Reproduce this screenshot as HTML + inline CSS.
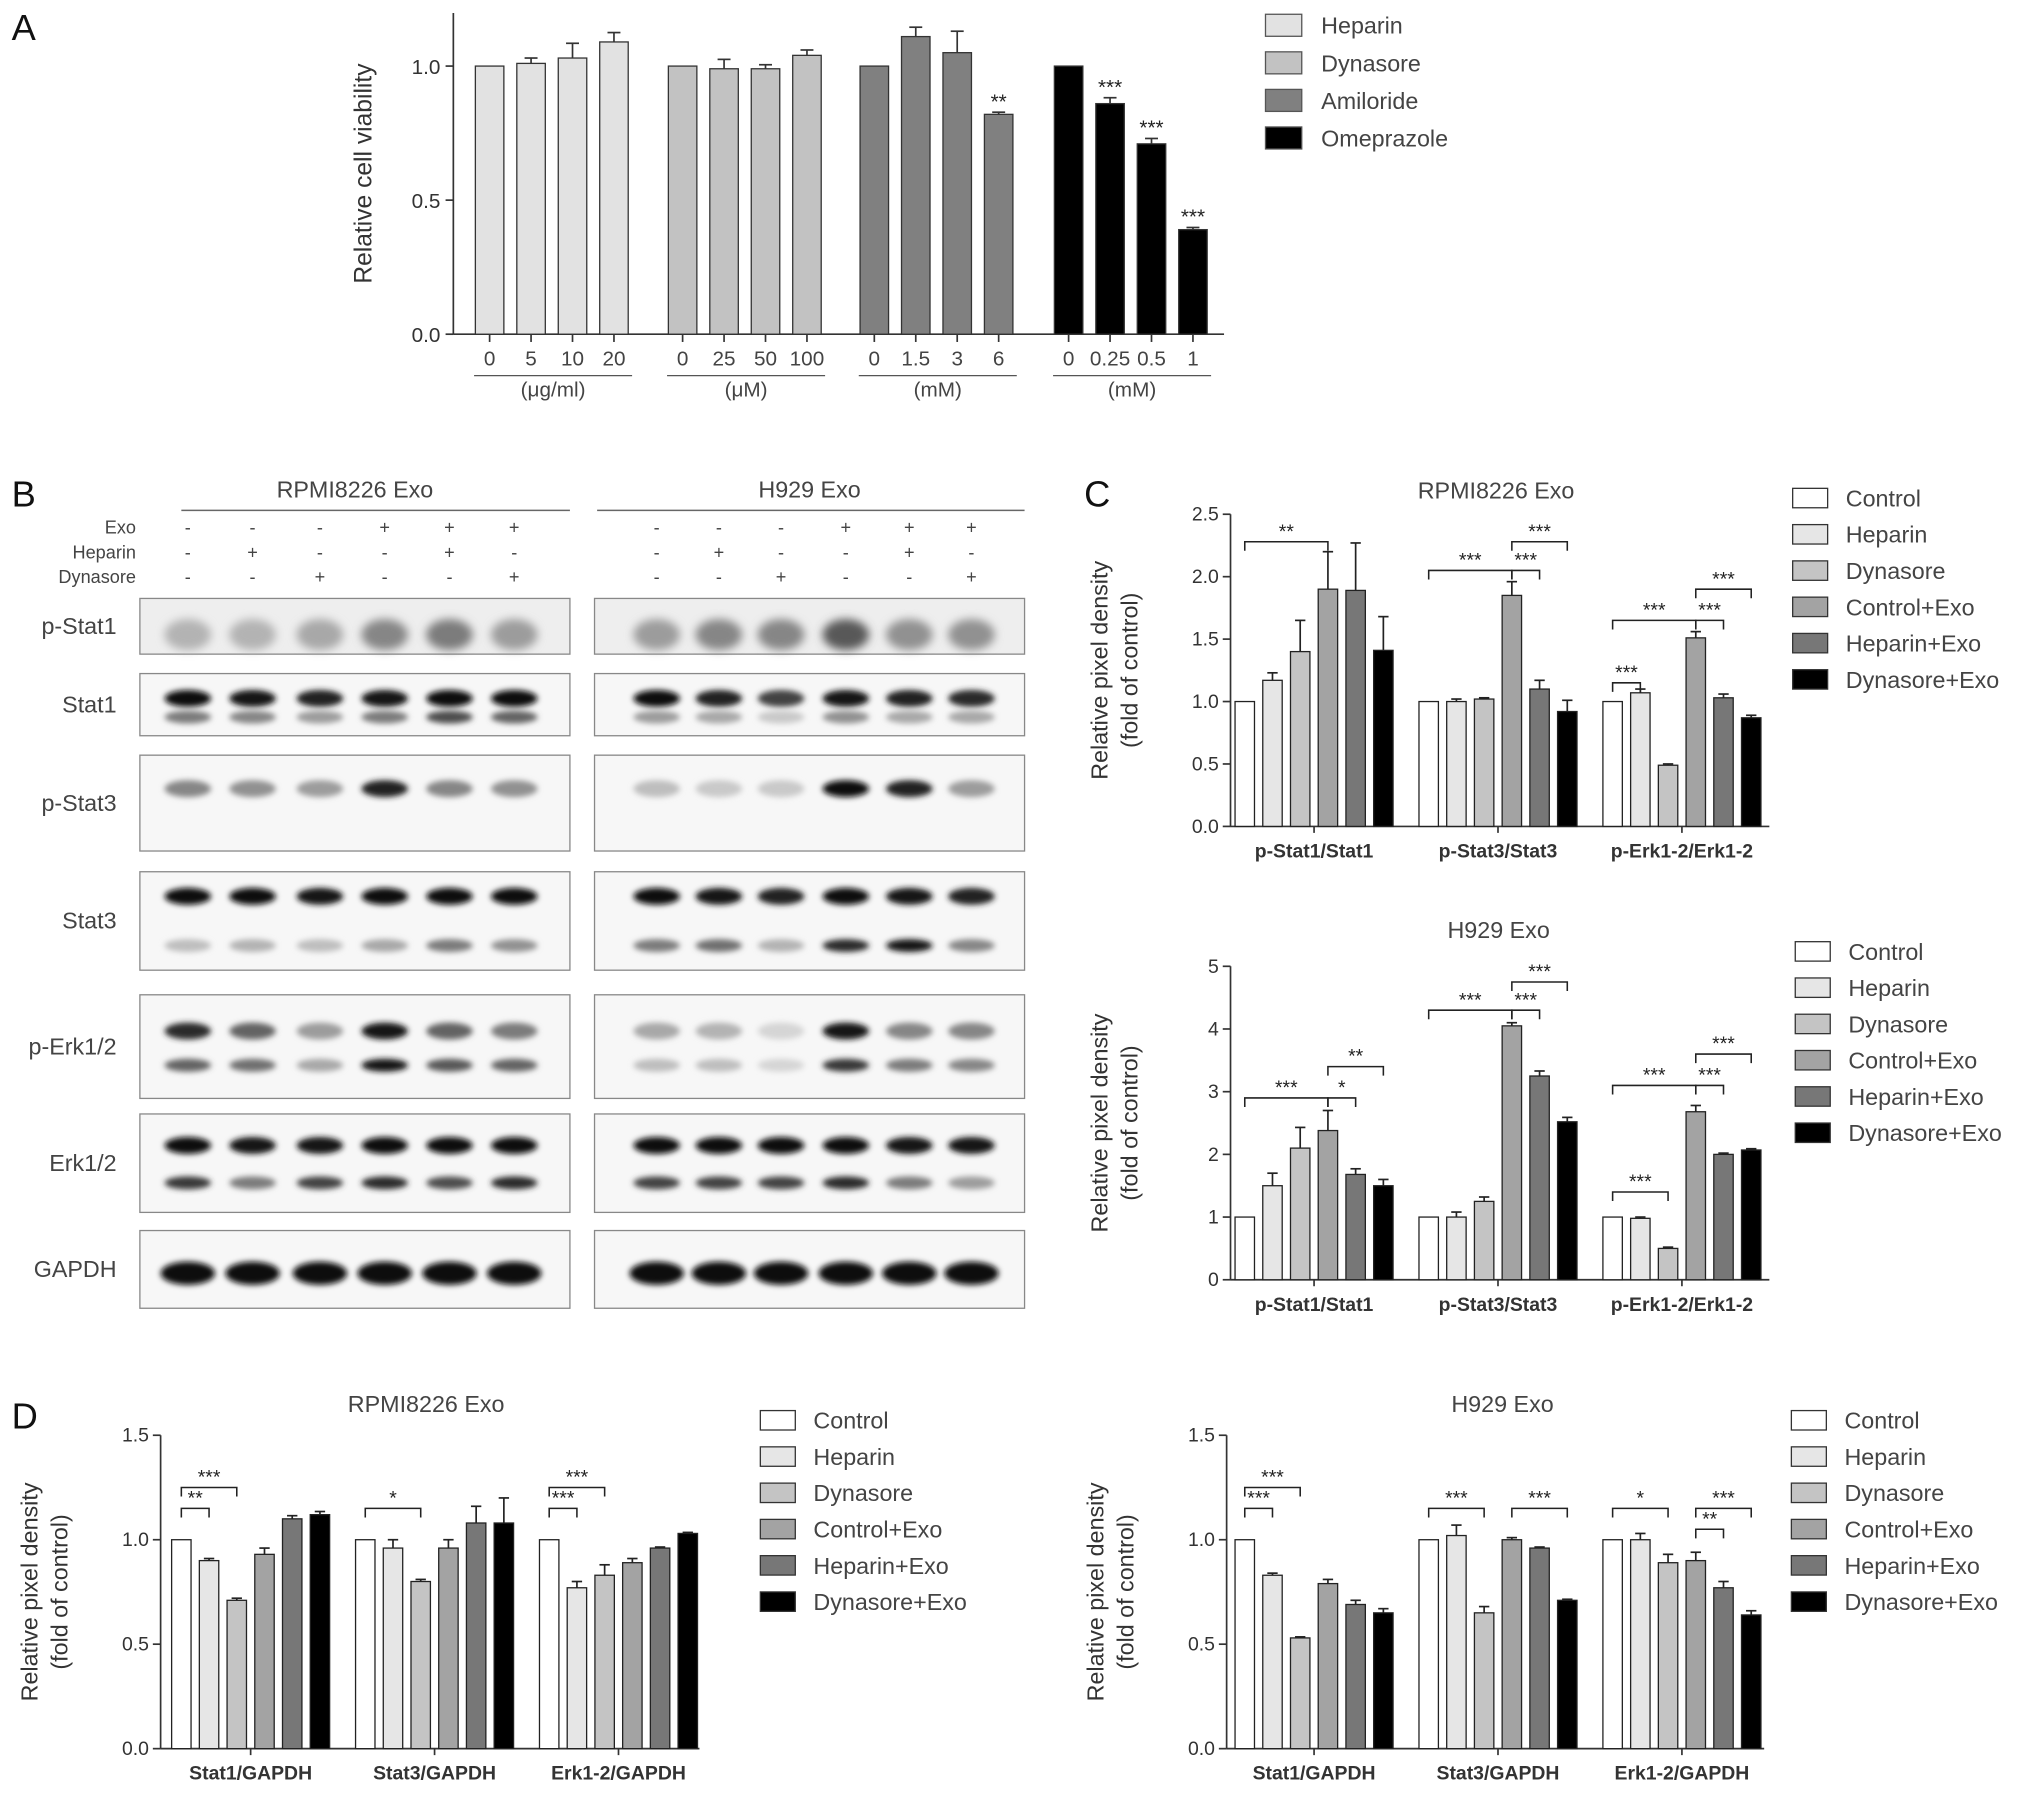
<!DOCTYPE html>
<html><head><meta charset="utf-8"><style>
html,body{margin:0;padding:0;background:#fff;}
svg{display:block;font-family:"Liberation Sans",sans-serif;}
</style></head><body>
<svg id="fig" width="2031" height="1794" viewBox="0 0 1568 1385" xmlns="http://www.w3.org/2000/svg">
<defs>
<filter id="blur" x="-50%" y="-100%" width="200%" height="300%"><feGaussianBlur stdDeviation="2.2"/></filter>
<filter id="blur2" x="-50%" y="-100%" width="200%" height="300%"><feGaussianBlur stdDeviation="3.5"/></filter>
</defs>
</svg>
<script>
// ---------- Panel A data ----------
const aGroups = ["(μg/ml)","(μM)","(mM)","(mM)"];
const aTicks = [["0","5","10","20"],["0","25","50","100"],["0","1.5","3","6"],["0","0.25","0.5","1"]];
const aValues = [[1,1.01,1.03,1.09],[1,0.99,0.99,1.04],[1,1.11,1.05,0.82],[1,0.86,0.71,0.39]];
const aErrors = [[0,0.02,0.055,0.035],[0,0.035,0.015,0.02],[0,0.035,0.08,0.008],[0,0.022,0.02,0.008]];
const aStars = [["","","",""],["","","",""],["","","","**"],["","***","***","***"]];
const aNames = ["Heparin","Dynasore","Amiloride","Omeprazole"];
const aColors = ["#e2e2e2","#c2c2c2","#808080","#000000"];
const yTicksA = [0,0.5,1.0];

// ---------- Panels C/D data ----------
const series = ["Control","Heparin","Dynasore","Control+Exo","Heparin+Exo","Dynasore+Exo"];
const sColors = ["#ffffff","#e6e6e6","#c4c4c4","#a3a3a3","#777777","#000000"];
const cCats = ["p-Stat1/Stat1","p-Stat3/Stat3","p-Erk1-2/Erk1-2"];
const dCats = ["Stat1/GAPDH","Stat3/GAPDH","Erk1-2/GAPDH"];
const cTopVals = [[1,1.17,1.4,1.9,1.89,1.41],[1,1,1.02,1.85,1.1,0.92],[1,1.07,0.49,1.51,1.03,0.87]];
const cTopErr = [[0,0.06,0.25,0.3,0.38,0.27],[0,0.02,0.01,0.11,0.07,0.09],[0,0.03,0.01,0.05,0.03,0.02]];
const cBotVals = [[1,1.5,2.1,2.38,1.68,1.5],[1,1,1.25,4.05,3.25,2.52],[1,0.98,0.5,2.68,2,2.07]];
const cBotErr = [[0,0.2,0.33,0.32,0.09,0.1],[0,0.08,0.07,0.05,0.08,0.07],[0,0.02,0.02,0.1,0.02,0.02]];
const dLeftVals = [[1,0.9,0.71,0.93,1.1,1.12],[1,0.96,0.8,0.96,1.08,1.08],[1,0.77,0.83,0.89,0.96,1.03]];
const dLeftErr = [[0,0.01,0.01,0.03,0.015,0.015],[0,0.04,0.01,0.04,0.08,0.12],[0,0.03,0.05,0.02,0.005,0.005]];
const dRightVals = [[1,0.83,0.53,0.79,0.69,0.65],[1,1.02,0.65,1,0.96,0.71],[1,1,0.89,0.9,0.77,0.64]];
const dRightErr = [[0,0.01,0.005,0.02,0.02,0.02],[0,0.05,0.03,0.01,0.005,0.005],[0,0.03,0.04,0.04,0.03,0.02]];
// brackets: [group, fromBar, toBar, level(value units), label]
const cTopBr = [[0,0,3,2.28,"**"],[1,0,3,2.05,"***"],[1,3,4,2.05,"***"],[1,3,5,2.28,"***"],[2,0,1,1.15,"***"],[2,0,3,1.65,"***"],[2,3,4,1.65,"***"],[2,3,5,1.9,"***"]];
const cBotBr = [[0,0,3,2.9,"***"],[0,3,4,2.9,"*"],[0,3,5,3.4,"**"],[1,0,3,4.3,"***"],[1,3,4,4.3,"***"],[1,3,5,4.75,"***"],[2,0,2,1.4,"***"],[2,0,3,3.1,"***"],[2,3,4,3.1,"***"],[2,3,5,3.6,"***"]];
const dLeftBr = [[0,0,1,1.15,"**"],[0,0,2,1.25,"***"],[1,0,2,1.15,"*"],[2,0,1,1.15,"***"],[2,0,2,1.25,"***"]];
const dRightBr = [[0,0,1,1.15,"***"],[0,0,2,1.25,"***"],[1,0,2,1.15,"***"],[1,3,5,1.15,"***"],[2,0,2,1.15,"*"],[2,3,4,1.05,"**"],[2,3,5,1.15,"***"]];

const NS="http://www.w3.org/2000/svg";
const svg=document.getElementById('fig');
function el(tag,attrs,parent,txt){const e=document.createElementNS(NS,tag);for(const k in attrs)e.setAttribute(k,attrs[k]);if(txt!==undefined)e.textContent=txt;(parent||svg).appendChild(e);return e;}
function grp(name){const g=el('g',{});return g;}

// ---------- Panel letters ----------
[["A",9,31],["B",9,391],["C",837,391],["D",9,1103]].forEach(p=>{
  const t=el('text',{x:p[1],y:p[2],'font-size':28,fill:'#111'},svg,p[0]);
  
  
});

// ---------- Panel A ----------
(function(){
  const g=grp('panel-a-chart');
  const x0=350,yBase=258,yTop=10,sc=207;
  const y=v=>yBase-v*sc;
  el('line',{x1:x0,y1:yTop,x2:x0,y2:yBase,stroke:'#333','stroke-width':1.3},g);
  el('line',{x1:x0,y1:yBase,x2:945,y2:yBase,stroke:'#333','stroke-width':1.3},g);
  yTicksA.forEach(t=>{el('line',{x1:x0-6,y1:y(t),x2:x0,y2:y(t),stroke:'#333','stroke-width':1.3},g);
    el('text',{x:x0-10,y:y(t)+6,'font-size':16,'text-anchor':'end',fill:'#333'},g,t.toFixed(1));});
  el('text',{transform:`translate(287,${(yTop+yBase)/2}) rotate(-90)`,'font-size':19,'text-anchor':'middle',fill:'#333'},g,'Relative cell viability');
  const gStart=[378,527,675,825],step=32,bw=22;
  aValues.forEach((vals,gi)=>{
    vals.forEach((v,i)=>{
      const cx=gStart[gi]+i*step;
      const b=el('rect',{x:cx-bw/2,y:y(v),width:bw,height:yBase-y(v),fill:aColors[gi],stroke:'#333','stroke-width':1},g);
      
      
      if(aErrors[gi][i]>0){const ye=y(v+aErrors[gi][i]);
        el('line',{x1:cx,y1:y(v),x2:cx,y2:ye,stroke:'#333','stroke-width':1.3},g);
        el('line',{x1:cx-5,y1:ye,x2:cx+5,y2:ye,stroke:'#333','stroke-width':1.3},g);}
      if(aStars[gi][i]) el('text',{x:cx,y:y(v+aErrors[gi][i])-3,'font-size':16,'text-anchor':'middle',fill:'#222'},g,aStars[gi][i]);
      el('line',{x1:cx,y1:yBase,x2:cx,y2:yBase+6,stroke:'#333','stroke-width':1.3},g);
      el('text',{x:cx,y:yBase+24,'font-size':16,'text-anchor':'middle',fill:'#444'},g,aTicks[gi][i]);
    });
    const l=gStart[gi]-12,r=gStart[gi]+3*step+14;
    el('line',{x1:l,y1:yBase+32,x2:r,y2:yBase+32,stroke:'#555','stroke-width':1},g);
    el('text',{x:(l+r)/2,y:yBase+48,'font-size':16,'text-anchor':'middle',fill:'#444'},g,aGroups[gi]);
  });
  aNames.forEach((n,i)=>{
    const e=el('rect',{x:977,y:11+i*29,width:28,height:17,fill:aColors[i],stroke:'#555','stroke-width':1},g);
    
    
    el('text',{x:1020,y:26+i*29,'font-size':18,fill:'#444'},g,n);
  });
})();

// ---------- Panel B (western blots) ----------
(function(){
  const g=grp('panel-b-blots');
  const boxes=[[108,440],[459,791]];
  const lanes=[[145,195,247,297,347,397],[507,555,603,653,702,750]];
  el('text',{x:274,y:384,'font-size':18,'text-anchor':'middle',fill:'#444'},g,'RPMI8226 Exo');
  el('text',{x:625,y:384,'font-size':18,'text-anchor':'middle',fill:'#444'},g,'H929 Exo');
  el('line',{x1:140,y1:394,x2:440,y2:394,stroke:'#666','stroke-width':1.2},g);
  el('line',{x1:461,y1:394,x2:791,y2:394,stroke:'#666','stroke-width':1.2},g);
  const treat=[["Exo",["-","-","-","+","+","+"]],["Heparin",["-","+","-","-","+","-"]],["Dynasore",["-","-","+","-","-","+"]]];
  treat.forEach((t,r)=>{const yy=412+r*19;
    el('text',{x:105,y:yy,'font-size':14,'text-anchor':'end',fill:'#444'},g,t[0]);
    lanes.forEach(L=>L.forEach((lx,i)=>el('text',{x:lx,y:yy,'font-size':14,'text-anchor':'middle',fill:'#444'},g,t[1][i])));});
  const rows=[["p-Stat1",462,505],["Stat1",520,568],["p-Stat3",583,657],["Stat3",673,749],["p-Erk1/2",768,848],["Erk1/2",860,936],["GAPDH",950,1010]];
  const bands={
    "p-Stat1":[[[.25,.25,.3,.45,.5,.35]],[[.35,.45,.45,.65,.4,.4]]],
    "Stat1":[[[1,.95,.9,.95,1,1],[.5,.45,.35,.5,.7,.6]],[[1,.9,.75,.95,.9,.85],[.35,.3,.15,.4,.3,.3]]],
    "p-Stat3":[[[.45,.4,.35,.9,.45,.4]],[[.2,.15,.15,1,.9,.35]]],
    "Stat3":[[[1,1,.95,1,1,1],[.2,.25,.2,.3,.5,.4]],[[1,.95,.9,1,.95,.9],[.5,.55,.25,.85,.95,.45]]],
    "p-Erk1/2":[[[.85,.6,.35,.95,.6,.5],[.6,.55,.3,.95,.65,.6]],[[.3,.25,.1,.95,.45,.45],[.2,.2,.1,.8,.5,.45]]],
    "Erk1/2":[[[1,.95,.95,1,1,1],[.8,.5,.75,.85,.7,.85]],[[1,1,1,1,.95,.95],[.75,.75,.75,.85,.5,.35]]],
    "GAPDH":[[[1,1,1,1,1,1]],[[1,1,1,1,1,1]]]
  };
  const yFrac={"p-Stat1":[.65],"Stat1":[.4,.7],"p-Stat3":[.35,.55],"Stat3":[.25,.75],"p-Erk1/2":[.35,.68],"Erk1/2":[.32,.7],"GAPDH":[.55]};
  rows.forEach(r=>{
    const [name,y1,y2]=r;
    el('text',{x:90,y:(y1+y2)/2+6,'font-size':18,'text-anchor':'end',fill:'#444'},g,name);
    boxes.forEach((bx,bi)=>{
      const rect=el('rect',{x:bx[0],y:y1,width:bx[1]-bx[0],height:y2-y1,fill:name==="p-Stat1"?'#eeeeee':'#f7f7f7',stroke:'#888','stroke-width':1},g);
      
      
      const h=y2-y1;
      bands[name][bi].forEach((arr,k)=>{
        const by=y1+h*yFrac[name][k];
        arr.forEach((v,i)=>{
          const gray=Math.round(235-v*225);
          const thick = name==="GAPDH"?9:(name==="p-Stat1"?12:(k==0?6.5:5));
          el('ellipse',{cx:lanes[bi][i],cy:by,rx:name==="GAPDH"?21:18,ry:thick,fill:`rgb(${gray},${gray},${gray})`,filter:name==="p-Stat1"?'url(#blur2)':'url(#blur)'},g);
        });
      });
    });
  });
})();

// ---------- Grouped bar chart helper ----------
function barChart(o){
  const g=grp(o.name);
  const y=v=>o.yBase-v*o.sc;
  const yTop=y(o.yMax);
  el('line',{x1:o.x0,y1:yTop,x2:o.x0,y2:o.yBase,stroke:'#333','stroke-width':1.3},g);
  el('line',{x1:o.x0,y1:o.yBase,x2:o.xEnd,y2:o.yBase,stroke:'#333','stroke-width':1.3},g);
  o.ticks.forEach(t=>{el('line',{x1:o.x0-6,y1:y(t),x2:o.x0,y2:y(t),stroke:'#333','stroke-width':1.3},g);
    el('text',{x:o.x0-9,y:y(t)+5,'font-size':15,'text-anchor':'end',fill:'#333'},g,o.fmt(t));});
  const cy=(yTop+o.yBase)/2;
  el('text',{transform:`translate(${o.x0-95},${cy}) rotate(-90)`,'font-size':18,'text-anchor':'middle',fill:'#333'},g,'Relative pixel density');
  el('text',{transform:`translate(${o.x0-72},${cy}) rotate(-90)`,'font-size':18,'text-anchor':'middle',fill:'#333'},g,'(fold of control)');
  el('text',{x:o.titleX,y:yTop-10+o.titleDy,'font-size':18,'text-anchor':'middle',fill:'#444'},g,o.title);
  const bw=15,step=21.4;
  const cx=(gi,i)=>o.gx[gi]+i*step;
  o.vals.forEach((vals,gi)=>{
    vals.forEach((v,i)=>{
      const x=cx(gi,i);
      const b=el('rect',{x:x-bw/2,y:y(v),width:bw,height:o.yBase-y(v),fill:sColors[i],stroke:'#222','stroke-width':1},g);
      
      
      const e=o.err[gi][i];
      if(e>0){const ye=y(v+e);
        el('line',{x1:x,y1:y(v),x2:x,y2:ye,stroke:'#222','stroke-width':1.3},g);
        el('line',{x1:x-4,y1:ye,x2:x+4,y2:ye,stroke:'#222','stroke-width':1.3},g);}
    });
    const mid=cx(gi,2.5);
    el('line',{x1:mid,y1:o.yBase,x2:mid,y2:o.yBase+5,stroke:'#333','stroke-width':1.3},g);
    el('text',{x:mid,y:o.yBase+24,'font-size':15,'font-weight':'bold','text-anchor':'middle',fill:'#333'},g,o.cats[gi]);
  });
  o.br.forEach(b=>{
    const [gi,a,c,lv,lab]=b;const yy=y(lv);
    const x1=cx(gi,a),x2=cx(gi,c);
    el('path',{d:`M${x1},${yy+7}V${yy}H${x2}V${yy+7}`,fill:'none',stroke:'#222','stroke-width':1.2},g);
    el('text',{x:(x1+x2)/2,y:yy-3,'font-size':15,'text-anchor':'middle',fill:'#222'},g,lab);
  });
  series.forEach((s,i)=>{
    const sw=el('rect',{x:o.legX,y:o.legY+i*28,width:27,height:15,fill:sColors[i],stroke:'#333','stroke-width':1},g);
    
    
    el('text',{x:o.legX+41,y:o.legY+i*28+14,'font-size':18,fill:'#444'},g,s);
  });
}
barChart({name:'panel-c-top-chart',x0:950,xEnd:1366,yBase:638,sc:96.4,yMax:2.5,ticks:[0,0.5,1,1.5,2,2.5],fmt:t=>t.toFixed(1),
  title:'RPMI8226 Exo',titleX:1155,titleDy:-2,gx:[961,1103,1245],cats:cCats,vals:cTopVals,err:cTopErr,br:cTopBr,legX:1384,legY:377});
barChart({name:'panel-c-bottom-chart',x0:950,xEnd:1366,yBase:988,sc:48.4,yMax:5,ticks:[0,1,2,3,4,5],fmt:t=>String(t),
  title:'H929 Exo',titleX:1157,titleDy:-12,gx:[961,1103,1245],cats:cCats,vals:cBotVals,err:cBotErr,br:cBotBr,legX:1386,legY:727});
barChart({name:'panel-d-left-chart',x0:124,xEnd:540,yBase:1350,sc:161.3,yMax:1.5,ticks:[0,0.5,1,1.5],fmt:t=>t.toFixed(1),
  title:'RPMI8226 Exo',titleX:329,titleDy:-8,gx:[140,282,424],cats:dCats,vals:dLeftVals,err:dLeftErr,br:dLeftBr,legX:587,legY:1089});
barChart({name:'panel-d-right-chart',x0:947,xEnd:1362,yBase:1350,sc:161.3,yMax:1.5,ticks:[0,0.5,1,1.5],fmt:t=>t.toFixed(1),
  title:'H929 Exo',titleX:1160,titleDy:-8,gx:[961,1103,1245],cats:dCats,vals:dRightVals,err:dRightErr,br:dRightBr,legX:1383,legY:1089});
</script>
</body></html>
